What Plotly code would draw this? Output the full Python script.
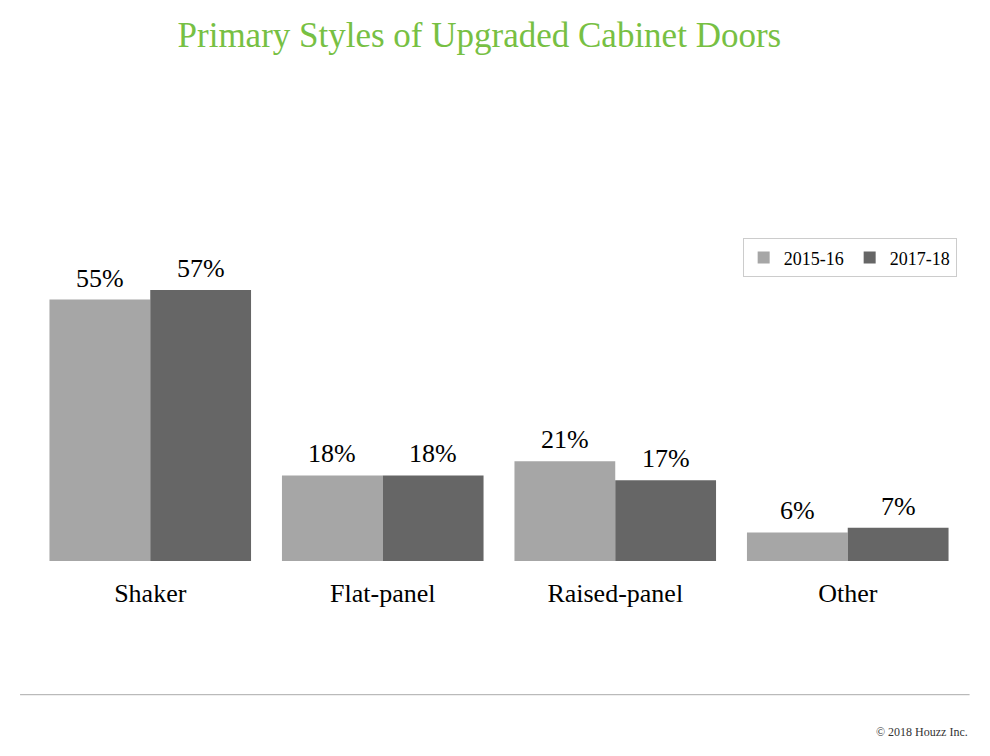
import plotly.graph_objects as go

categories = ["Shaker", "Flat-panel", "Raised-panel", "Other"]
series_names = ["2015-16", "2017-18"]
values_2015 = [55, 18, 21, 6]
values_2017 = [57, 18, 17, 7]
colors = ["#a6a6a6", "#666666"]

FONT = "Liberation Serif, Times New Roman, serif"

fig = go.Figure()
for name, vals, col in zip(series_names, [values_2015, values_2017], colors):
    fig.add_trace(go.Bar(
        x=categories, y=vals, name=name,
        marker=dict(color=col, line=dict(width=0)),
    ))

# value labels above bars (positioned via data coords)
bar_offset = 50.5
for vals, shift in zip([values_2015, values_2017], [-bar_offset, bar_offset]):
    for c, v in zip(categories, vals):
        fig.add_annotation(x=c, y=v, xref="x", yref="y", text=f"{v}%",
                           showarrow=False, xshift=shift, yshift=5,
                           yanchor="bottom", xanchor="center",
                           font=dict(family=FONT, size=26, color="black"))

fig.update_layout(
    width=982, height=748,
    margin=dict(l=26, r=25.5, t=92, b=195, autoexpand=False),
    paper_bgcolor="white", plot_bgcolor="white",
    barmode="group", bargap=0.133, bargroupgap=0,
    font=dict(family=FONT, color="black"),
    title=dict(text="Primary Styles of Upgraded Cabinet Doors",
               x=0.480, xanchor="center", xref="container",
               y=0.964, yanchor="middle", yref="container",
               font=dict(family=FONT, size=35, color="#77c043")),
    xaxis=dict(showgrid=False, showline=False, zeroline=False,
               ticks="outside", ticklen=9, tickcolor="rgba(0,0,0,0)",
               tickfont=dict(family=FONT, size=26, color="black")),
    yaxis=dict(range=[0, 97], visible=False, showgrid=False, zeroline=False),
    legend=dict(orientation="h", x=0.762, y=0.70, xanchor="left", yanchor="top",
                bordercolor="#cccccc", borderwidth=1,
                font=dict(family=FONT, size=18, color="black"),
                itemwidth=30, entrywidth=61, entrywidthmode="pixels",
                tracegroupgap=0),
    showlegend=True,
)

fig.add_shape(type="line", xref="paper", yref="paper",
              x0=-0.015, x1=1.006, y0=-0.29, y1=-0.29,
              line=dict(color="#aaaaaa", width=1))
fig.add_annotation(text="© 2018 Houzz Inc.", xref="paper", yref="paper",
                   x=1.006, y=-0.37, xanchor="right", yanchor="middle",
                   showarrow=False, font=dict(family=FONT, size=12, color="#333333"))

fig.write_html("out.html")
